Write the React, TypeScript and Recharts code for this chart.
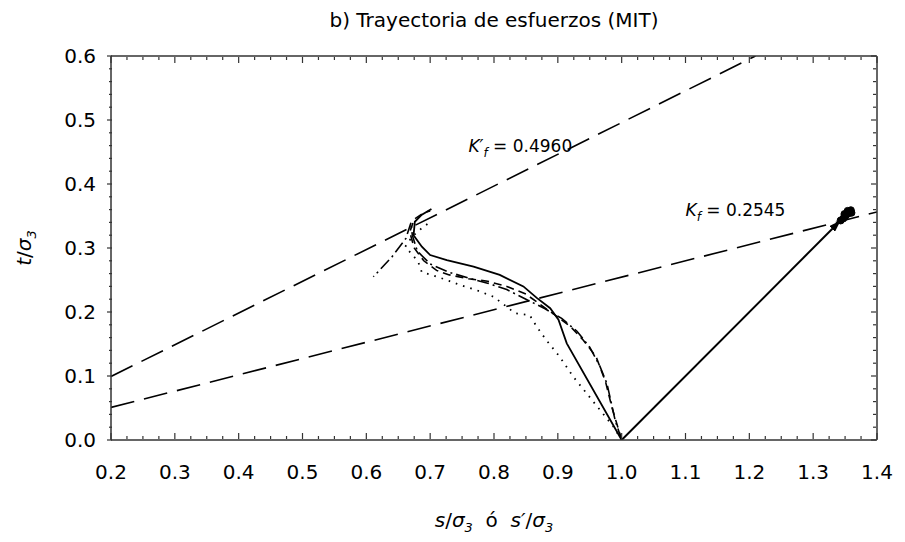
import React from 'react';
import { ComposedChart, Line, XAxis, YAxis, ReferenceDot } from 'recharts';

// axis ticks
const xMajor = [0.2, 0.3, 0.4, 0.5, 0.6, 0.7, 0.8, 0.9, 1.0, 1.1, 1.2, 1.3, 1.4];
const yMajor = [0.0, 0.1, 0.2, 0.3, 0.4, 0.5, 0.6];
const X_MINOR = 4;
const Y_MINOR = 5;

// failure envelopes
const kfPrimeLine = [
  { s: 0.2, t: 0.0992 },
  { s: 1.2097, t: 0.6 },
];
const kfLine = [
  { s: 0.2, t: 0.0509 },
  { s: 1.4, t: 0.3563 },
];

// total stress path + failure points
const totalPath = [
  { s: 1.0, t: 0.0 },
  { s: 1.343, t: 0.343 },
];
const failureCluster = [
  { s: 1.343, t: 0.343 },
  { s: 1.347, t: 0.346 },
  { s: 1.35, t: 0.349 },
  { s: 1.352, t: 0.352 },
  { s: 1.355, t: 0.354 },
  { s: 1.357, t: 0.357 },
  { s: 1.359, t: 0.359 },
  { s: 1.354, t: 0.358 },
  { s: 1.349, t: 0.353 },
  { s: 1.36, t: 0.355 },
];

// effective stress paths
const solidPath = [
  { s: 1.0, t: 0.0 },
  { s: 0.914, t: 0.151 },
  { s: 0.901, t: 0.188 },
  { s: 0.888, t: 0.206 },
  { s: 0.867, t: 0.222 },
  { s: 0.846, t: 0.24 },
  { s: 0.809, t: 0.258 },
  { s: 0.768, t: 0.271 },
  { s: 0.726, t: 0.281 },
  { s: 0.7, t: 0.289 },
  { s: 0.687, t: 0.302 },
  { s: 0.674, t: 0.32 },
  { s: 0.676, t: 0.341 },
  { s: 0.687, t: 0.352 },
  { s: 0.702, t: 0.361 },
];
const dashDotPath = [
  { s: 1.0, t: 0.0 },
  { s: 0.99, t: 0.03 },
  { s: 0.977, t: 0.088 },
  { s: 0.966, t: 0.115 },
  { s: 0.95, t: 0.145 },
  { s: 0.93, t: 0.17 },
  { s: 0.906, t: 0.19 },
  { s: 0.88, t: 0.205 },
  { s: 0.85, t: 0.22 },
  { s: 0.82, t: 0.235 },
  { s: 0.79, t: 0.245 },
  { s: 0.76, t: 0.253 },
  { s: 0.73, t: 0.262 },
  { s: 0.7, t: 0.275 },
  { s: 0.68, t: 0.295 },
  { s: 0.672, t: 0.32 },
  { s: 0.67, t: 0.34 },
  { s: 0.662, t: 0.315 },
  { s: 0.64, t: 0.286 },
  { s: 0.611, t: 0.255 },
];
const dashedPath = [
  { s: 1.0, t: 0.0 },
  { s: 0.985, t: 0.05 },
  { s: 0.975, t: 0.09 },
  { s: 0.96, t: 0.13 },
  { s: 0.94, t: 0.156 },
  { s: 0.92, t: 0.177 },
  { s: 0.9, t: 0.192 },
  { s: 0.875, t: 0.21 },
  { s: 0.85, t: 0.228 },
  { s: 0.82, t: 0.24 },
  { s: 0.79, t: 0.248 },
  { s: 0.76, t: 0.252 },
  { s: 0.73, t: 0.258 },
  { s: 0.71, t: 0.265 },
  { s: 0.69, t: 0.28 },
  { s: 0.675, t: 0.3 },
  { s: 0.668, t: 0.325 },
  { s: 0.675, t: 0.345 },
  { s: 0.69, t: 0.355 },
  { s: 0.7, t: 0.358 },
];
const dottedPath = [
  { s: 1.0, t: 0.0 },
  { s: 0.987, t: 0.021 },
  { s: 0.966, t: 0.047 },
  { s: 0.945, t: 0.073 },
  { s: 0.924, t: 0.099 },
  { s: 0.903, t: 0.13 },
  { s: 0.882, t: 0.156 },
  { s: 0.867, t: 0.177 },
  { s: 0.856, t: 0.195 },
  { s: 0.833, t: 0.198 },
  { s: 0.815, t: 0.212 },
  { s: 0.799, t: 0.224 },
  { s: 0.773, t: 0.234 },
  { s: 0.747, t: 0.242 },
  { s: 0.726, t: 0.25 },
  { s: 0.702, t: 0.258 },
  { s: 0.687, t: 0.262 },
  { s: 0.681, t: 0.279 },
  { s: 0.668, t: 0.294 },
  { s: 0.661, t: 0.302 },
  { s: 0.672, t: 0.318 },
  { s: 0.688, t: 0.332 },
  { s: 0.702, t: 0.342 },
];

// annotation anchors (data coords)
const kfPrimeLabelAt = { s: 0.76, t: 0.45 };
const kfLabelAt = { s: 1.1, t: 0.35 };

const FONT = '"DejaVu Sans", Tahoma, sans-serif';
const AXIS = '#333';
const INK = '#000';
const TICK_FS = 20;

const subdivide = (majors: number[], n: number) =>
  majors
    .slice(0, -1)
    .flatMap((v, i) =>
      Array.from({ length: n }, (_, k) => +(v + (k * (majors[i + 1] - v)) / n).toFixed(4))
    )
    .concat(majors[majors.length - 1]);

const xTicks = subdivide(xMajor, X_MINOR);
const yTicks = subdivide(yMajor, Y_MINOR);
const isMajor = (v: number, majors: number[]) => majors.some((m) => Math.abs(m - v) < 1e-6);

// axes get 1px of room (recharts skips axes with 0 size), so ticks are drawn from the plot edge
function BottomTick({ x, y, payload }: any) {
  const major = isMajor(payload.value, xMajor);
  const y0 = y - 1;
  return (
    <g>
      <line x1={x} x2={x} y1={y0} y2={y0 - (major ? 6 : 3)} stroke={AXIS} strokeWidth={1.2} />
      {major && (
        <text x={x} y={y0 + 40} textAnchor="middle" fontSize={TICK_FS} fontFamily={FONT} fill={INK}>
          {payload.value.toFixed(1)}
        </text>
      )}
    </g>
  );
}

function TopTick({ x, y, payload }: any) {
  const major = isMajor(payload.value, xMajor);
  const y0 = y + 1;
  return <line x1={x} x2={x} y1={y0} y2={y0 + (major ? 6 : 3)} stroke={AXIS} strokeWidth={1.2} />;
}

function LeftTick({ x, y, payload }: any) {
  const major = isMajor(payload.value, yMajor);
  const x0 = x + 1;
  return (
    <g>
      <line x1={x0} x2={x0 - (major ? 5 : 3)} y1={y} y2={y} stroke={AXIS} strokeWidth={1.2} />
      {major && (
        <text x={x0 - 16} y={y + 7} textAnchor="end" fontSize={TICK_FS} fontFamily={FONT} fill={INK}>
          {payload.value.toFixed(1)}
        </text>
      )}
    </g>
  );
}

function RightTick({ x, y, payload }: any) {
  const major = isMajor(payload.value, yMajor);
  const x0 = x - 1;
  return <line x1={x0} x2={x0 - (major ? 5 : 3)} y1={y} y2={y} stroke={AXIS} strokeWidth={1.2} />;
}

function KLabel({ cx, cy, prime, value }: any) {
  return (
    <text x={cx} y={cy} fontSize={17} fontFamily={FONT} fill={INK}>
      <tspan fontStyle="italic">{prime ? 'K\u2032' : 'K'}</tspan>
      <tspan fontStyle="italic" fontSize={12} dy={5}>
        f
      </tspan>
      <tspan dy={-5}>{` = ${value}`}</tspan>
    </text>
  );
}

export default function App() {
  return (
    <div style={{ position: 'absolute', left: 0, top: 0, width: 905, height: 542, background: '#fff', fontFamily: FONT }}>
      <div style={{ position: 'absolute', left: 111, width: 766, top: 8, lineHeight: '24px', fontSize: 20, textAlign: 'center' }}>
        b) Trayectoria de esfuerzos (MIT)
      </div>

      <ComposedChart width={905} height={542} margin={{ top: 55, right: 27, bottom: 101, left: 110 }}>
        <defs>
          <marker id="arrowHead" viewBox="0 0 12 8" refX="12" refY="4" markerWidth="12" markerHeight="8" markerUnits="userSpaceOnUse" orient="auto">
            <path d="M0,0 L12,4 L0,8 z" fill={INK} />
          </marker>
        </defs>

        <XAxis xAxisId="b" dataKey="s" type="number" domain={[0.2, 1.4]} ticks={xTicks} interval={0} allowDataOverflow
          height={1} tickSize={0} tickMargin={0} tickLine={false} axisLine={{ stroke: AXIS, strokeWidth: 1.5 }} tick={<BottomTick />} />
        <XAxis xAxisId="top" orientation="top" dataKey="s" type="number" domain={[0.2, 1.4]} ticks={xTicks} interval={0} allowDataOverflow
          height={1} tickSize={0} tickMargin={0} tickLine={false} axisLine={{ stroke: AXIS, strokeWidth: 1.5 }} tick={<TopTick />} />
        <YAxis yAxisId="l" dataKey="t" type="number" domain={[0, 0.6]} ticks={yTicks} interval={0} allowDataOverflow
          width={1} tickSize={0} tickMargin={0} tickLine={false} axisLine={{ stroke: AXIS, strokeWidth: 1.5 }} tick={<LeftTick />} />
        <YAxis yAxisId="r" orientation="right" dataKey="t" type="number" domain={[0, 0.6]} ticks={yTicks} interval={0} allowDataOverflow
          width={1} tickSize={0} tickMargin={0} tickLine={false} axisLine={{ stroke: AXIS, strokeWidth: 1.5 }} tick={<RightTick />} />

        <Line xAxisId="b" yAxisId="l" data={kfPrimeLine} dataKey="t" type="linear" stroke={INK} strokeWidth={1.6}
          strokeDasharray="24 10" dot={false} isAnimationActive={false} />
        <Line xAxisId="b" yAxisId="l" data={kfLine} dataKey="t" type="linear" stroke={INK} strokeWidth={1.6}
          strokeDasharray="24 10" dot={false} isAnimationActive={false} />

        <Line xAxisId="b" yAxisId="l" data={dottedPath} dataKey="t" type="linear" stroke={INK} strokeWidth={1.8}
          strokeDasharray="1.6 6" dot={false} isAnimationActive={false} />
        <Line xAxisId="b" yAxisId="l" data={dashedPath} dataKey="t" type="linear" stroke={INK} strokeWidth={1.6}
          strokeDasharray="8 5" dot={false} isAnimationActive={false} />
        <Line xAxisId="b" yAxisId="l" data={dashDotPath} dataKey="t" type="linear" stroke={INK} strokeWidth={1.6}
          strokeDasharray="12 4 2 4" dot={false} isAnimationActive={false} />
        <Line xAxisId="b" yAxisId="l" data={solidPath} dataKey="t" type="linear" stroke={INK} strokeWidth={1.8}
          dot={false} isAnimationActive={false} />

        <Line xAxisId="b" yAxisId="l" data={totalPath} dataKey="t" type="linear" stroke={INK} strokeWidth={2}
          markerEnd="url(#arrowHead)" dot={false} isAnimationActive={false} />
        <Line xAxisId="b" yAxisId="l" data={failureCluster} dataKey="t" type="linear" stroke="none"
          dot={{ r: 3.5, fill: INK, stroke: INK }} isAnimationActive={false} />

        <ReferenceDot xAxisId="b" yAxisId="l" x={kfPrimeLabelAt.s} y={kfPrimeLabelAt.t} r={0}
          shape={(p: any) => <KLabel cx={p.cx} cy={p.cy} prime value="0.4960" />} />
        <ReferenceDot xAxisId="b" yAxisId="l" x={kfLabelAt.s} y={kfLabelAt.t} r={0}
          shape={(p: any) => <KLabel cx={p.cx} cy={p.cy} value="0.2545" />} />
      </ComposedChart>

      <div style={{ position: 'absolute', left: 111, width: 766, top: 508, lineHeight: '24px', fontSize: 20, textAlign: 'center', whiteSpace: 'nowrap' }}>
        <i>s</i>/<i>σ<sub style={{ fontSize: 13 }}>3</sub></i>
        <span>{'\u00a0 ó \u00a0'}</span>
        <i>s′</i>/<i>σ<sub style={{ fontSize: 13 }}>3</sub></i>
      </div>
      <div style={{ position: 'absolute', left: 28, top: 248, transform: 'translate(-50%, -50%) rotate(-90deg)', fontSize: 20, whiteSpace: 'nowrap', lineHeight: '24px' }}>
        <i>t</i>/<i>σ<sub style={{ fontSize: 13 }}>3</sub></i>
      </div>
    </div>
  );
}
